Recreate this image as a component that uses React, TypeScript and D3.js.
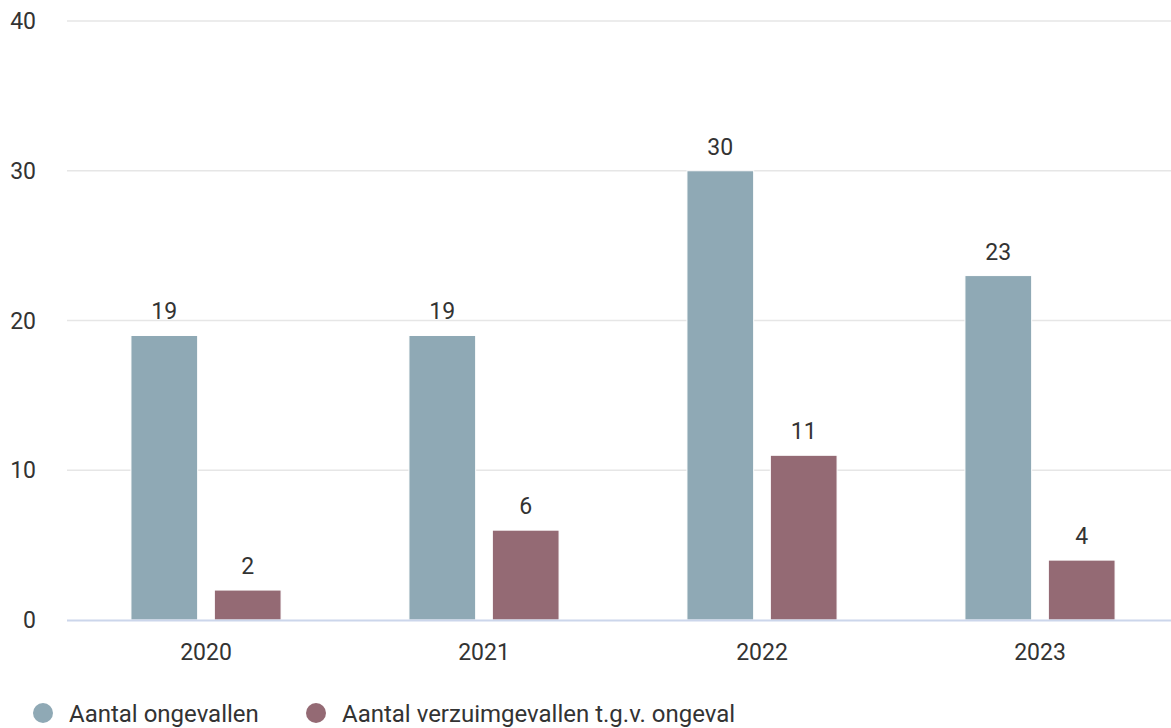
import React from "react";
import * as d3 from "d3";

const categories = ["2020", "2021", "2022", "2023"];
const seriesNames = ["Aantal ongevallen", "Aantal verzuimgevallen t.g.v. ongeval"];
const ongevallen = [19, 19, 30, 23];
const verzuim = [2, 6, 11, 4];
const yTicks = [0, 10, 20, 30, 40];
const colors = ["#8fa9b5", "#946a74"];

export default function App() {
  const W = 1171, H = 728;
  const left = 67, right = 1179, top = 21, bottom = 620;
  const x0 = d3.scaleBand().domain(categories).range([left, right]).paddingInner(0).paddingOuter(0);
  const y = d3.scaleLinear().domain([0, 40]).range([bottom, top]);
  const series = [ongevallen, verzuim];
  const bw = x0.bandwidth();
  const groupW = bw * 0.6;
  const slot = groupW / 2;
  const font = "Roboto, sans-serif";
  return (
    <svg width={W} height={H} style={{ position: "absolute", left: 0, top: 0 }} fontFamily={font}>
      {yTicks.map((t) => (
        <g key={t}>
          {t !== 0 && <line x1={left} x2={W} y1={y(t)} y2={y(t)} stroke="#e6e6e6" strokeWidth={1.5} />}
          <text x={36} y={y(t) + 8} textAnchor="end" fontSize={23} fill="#333">{t}</text>
        </g>
      ))}
      {categories.map((c, i) => {
        const gx = (x0(c) as number) + bw * 0.2;
        return (
          <g key={c}>
            {series.map((s, j) => {
              const bx = gx + slot * j + slot * 0.1;
              const w = slot * 0.8;
              const v = s[i];
              return (
                <g key={j}>
                  <rect x={bx} y={y(v)} width={w} height={bottom - y(v)} fill={colors[j]} stroke="#fff" strokeWidth={1} />
                  <text x={bx + w / 2} y={y(v) - 16} textAnchor="middle" fontSize={23} fill="#333">{v}</text>
                </g>
              );
            })}
            <text x={(x0(c) as number) + bw / 2} y={660} textAnchor="middle" fontSize={23} fill="#333">{c}</text>
          </g>
        );
      })}
      <line x1={left} x2={W} y1={bottom + 0.5} y2={bottom + 0.5} stroke="#ccd6eb" strokeWidth={2} />
      {seriesNames.map((n, j) => {
        const lx = j === 0 ? 43 : 316;
        return (
          <g key={n}>
            <circle cx={lx} cy={713} r={10} fill={colors[j]} />
            <text x={lx + 26} y={722} fontSize={24} fill="#333">{n}</text>
          </g>
        );
      })}
    </svg>
  );
}
